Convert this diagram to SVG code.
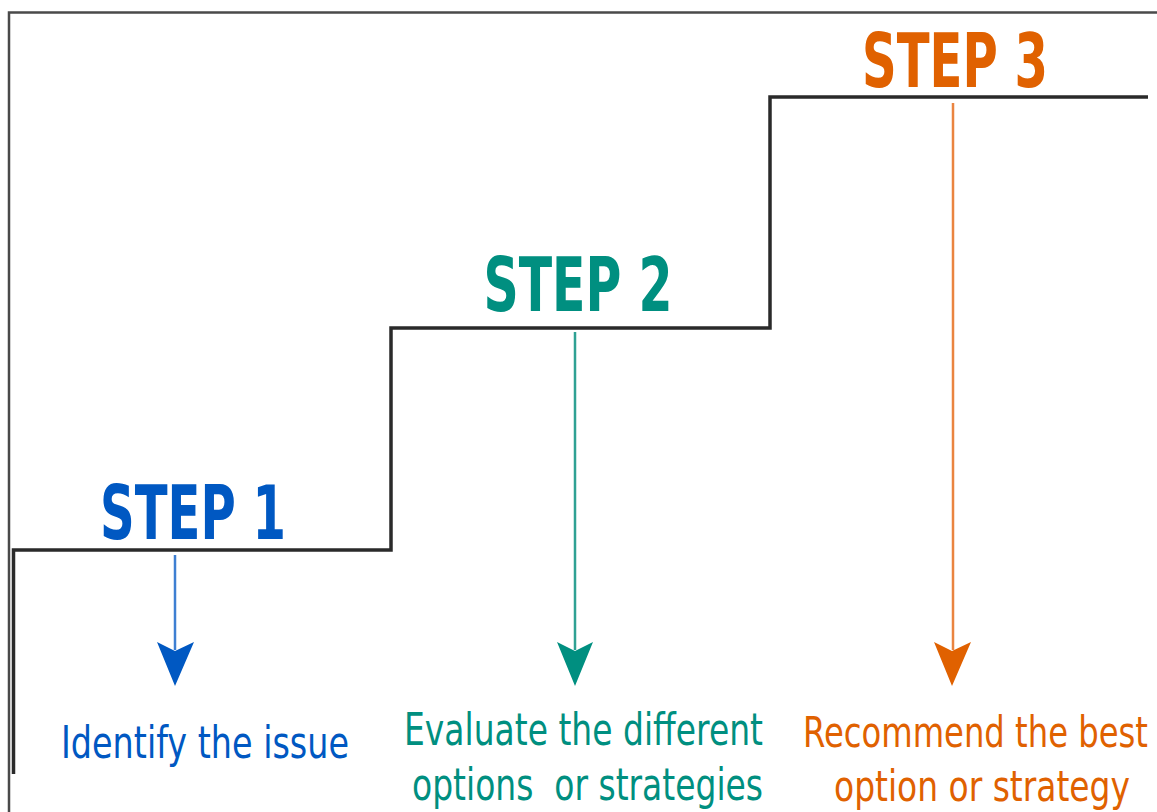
<svg xmlns="http://www.w3.org/2000/svg" width="1157" height="812" viewBox="0 0 1157 812">
<style>
.title{font-family:"DejaVu Sans","Verdana",sans-serif;font-weight:bold;font-size:74px;text-anchor:middle}
.lbl{font-family:"DejaVu Sans","Verdana",sans-serif;font-size:45px}
.sm{font-size:43px}
.blue{fill:#0058C2}
.teal{fill:#008F80}
.orange{fill:#E06100}
</style>
<rect width="1157" height="812" fill="#ffffff"/>
<path d="M9,812 V12.5 H1157" fill="none" stroke="#4a4a4a" stroke-width="2.5"/>
<g id="stairs">
<path d="M13.5,774 V550 H391 V328 H770 V97 H1148" fill="none" stroke="#2a2a2a" stroke-width="3.5"/>
</g>
<g id="step1">
<text class="title blue" x="193" y="539" textLength="186" lengthAdjust="spacingAndGlyphs">STEP 1</text>
<text class="lbl blue" x="61" y="758" textLength="288" lengthAdjust="spacingAndGlyphs">Identify the issue</text>
</g>
<g id="step2">
<text class="title teal" x="578" y="311" textLength="189" lengthAdjust="spacingAndGlyphs">STEP 2</text>
<text class="lbl teal" x="404" y="745" textLength="359" lengthAdjust="spacingAndGlyphs">Evaluate the different</text>
<text class="lbl teal" x="412" y="800" textLength="351" lengthAdjust="spacingAndGlyphs">options&#160; or strategies</text>
</g>
<g id="step3">
<text class="title orange" x="955" y="87" textLength="186" lengthAdjust="spacingAndGlyphs">STEP 3</text>
<text class="lbl sm orange" x="803" y="747" textLength="345" lengthAdjust="spacingAndGlyphs">Recommend the best</text>
<text class="lbl sm orange" x="834" y="801" textLength="296" lengthAdjust="spacingAndGlyphs">option or strategy</text>
</g>
<g id="connectors">
<line x1="175" y1="555" x2="175" y2="650" stroke="#3E7FD2" stroke-width="2.5"/>
<polygon points="157,642 175,651 194,642 175,686" fill="#0058C2"/>
<line x1="575" y1="332" x2="575" y2="650" stroke="#2FA193" stroke-width="2.5"/>
<polygon points="557,642 575,651 593,642 575,686" fill="#008F80"/>
<line x1="953" y1="103" x2="953" y2="650" stroke="#EA8440" stroke-width="2.5"/>
<polygon points="934,642 952,651 971,642 952,686" fill="#E06100"/>
</g>
</svg>
